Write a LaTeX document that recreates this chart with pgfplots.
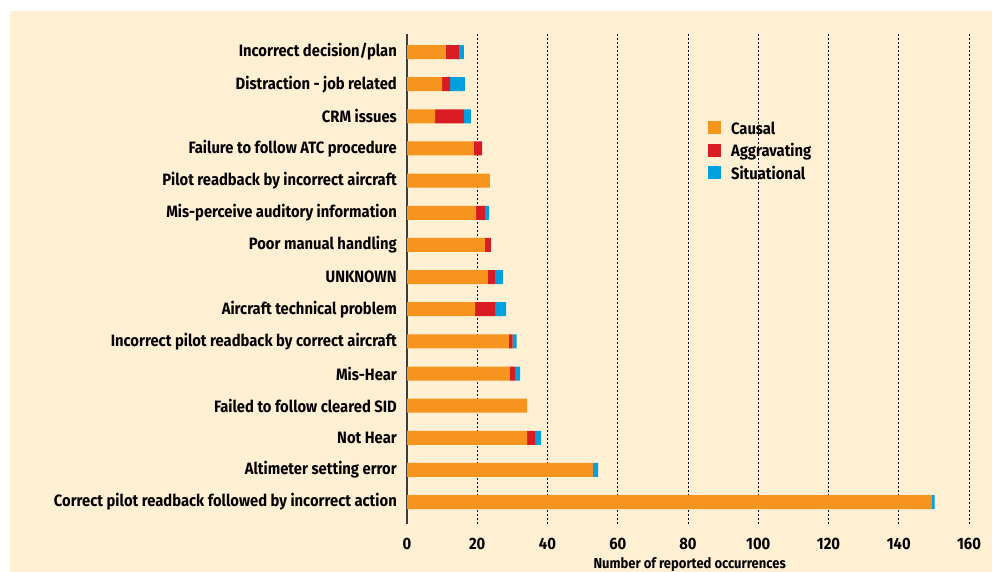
\documentclass[border=0pt]{standalone}
\usepackage{fontspec}
\usepackage{pgfplots}
\pgfplotsset{compat=1.18}
\newfontfamily\lab{Fira Sans}[FakeStretch=0.9]
\definecolor{cream}{HTML}{FFF0D3}
\definecolor{corange}{HTML}{F7941E}
\definecolor{cred}{HTML}{D91C24}
\definecolor{cblue}{HTML}{00A1DE}
\definecolor{axgray}{HTML}{3C3C3C}
\begin{document}
\begin{tikzpicture}
\path[use as bounding box] (0,0) rectangle (992bp,572bp);
\fill[white] (0,0) rectangle (992bp,572bp);
\fill[cream] (10bp,0) rectangle (992bp,561bp);
\begin{axis}[
  at={(407bp,48bp)}, anchor=south west,
  scale only axis, width=562bp, height=490bp,
  xmin=0, xmax=160, ymin=-0.68, ymax=14.56,
  xbar stacked, bar width=14bp,
  axis x line*=bottom, axis y line*=left,
  x axis line style={draw=none},
  y axis line style={draw=axgray, line width=1.3bp, -},
  xmajorgrids, grid style={black, line width=0.9bp, dash pattern=on 2bp off 2bp},
  major tick length=0pt, tick style={draw=none},
  xtick={0,20,...,160},
  ytick={0,...,14},
  yticklabels={Correct pilot readback followed by incorrect action,
    Altimeter setting error, Not Hear, Failed to follow cleared SID, Mis-Hear,
    Incorrect pilot readback by correct aircraft, Aircraft technical problem,
    UNKNOWN, Poor manual handling, Mis-perceive auditory information,
    Pilot readback by incorrect aircraft, Failure to follow ATC procedure,
    CRM issues, Distraction - job related, Incorrect decision/plan},
  /pgf/number format/assume math mode=true,
  ticklabel style={font=\lab\bfseries\fontsize{16.5}{18}\selectfont},
  yticklabel style={anchor=east, inner sep=0pt, xshift=-10bp},
  xticklabel style={anchor=base, inner sep=0pt, yshift=-25bp},
  xlabel={Number of reported occurrences},
  xlabel style={font=\lab\bfseries\fontsize{14.5}{16}\selectfont,
    at={(axis description cs:0.503,0)}, anchor=base, inner sep=0pt, yshift=-44bp},
  legend style={at={(0.530,0.826)}, anchor=north west, draw=none, fill=none,
    font=\lab\bfseries\fontsize{16.5}{18}\selectfont, row sep=5.5bp,
    nodes={text height=12bp, text depth=3bp, inner sep=1bp},
    /tikz/every odd column/.append style={column sep=9bp}},
  legend cell align=left,
  legend image code/.code={\fill[#1] (0bp,-4.5bp) rectangle (13bp,8.5bp);},
]
\addplot[fill=corange, draw=none] coordinates {
 (149.3,0) (53,1) (34.2,2) (34.2,3) (29.3,4) (29,5) (19.4,6) (23,7) (22.2,8) (19.7,9) (23.6,10) (19,11) (8,12) (10,13) (11,14)};
\addplot[fill=cred, draw=none] coordinates {
 (0,0) (0,1) (2.3,2) (0,3) (1.5,4) (1.1,5) (5.7,6) (2,7) (1.7,8) (2.5,9) (0,10) (2.4,11) (8.2,12) (2.3,13) (4,14)};
\addplot[fill=cblue, draw=none] coordinates {
 (0.9,0) (1.4,1) (1.7,2) (0,3) (1.4,4) (1.1,5) (3.1,6) (2.3,7) (0,8) (1.2,9) (0,10) (0,11) (2,12) (4.2,13) (1.2,14)};
\legend{Causal, Aggravating, Situational}
\end{axis}
\end{tikzpicture}
\end{document}
